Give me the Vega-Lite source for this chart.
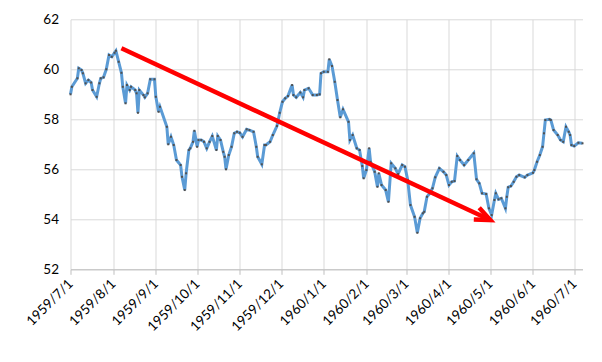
{
  "$schema": "https://vega.github.io/schema/vega-lite/v6.json",
  "width": 512,
  "height": 250,
  "autosize": "none",
  "padding": {"left": 70.5, "top": 19.3, "right": 19.5, "bottom": 92.7},
  "background": "white",
  "config": {
    "view": {"stroke": null},
    "font": "Lato",
    "axis": {"labelFont": "Lato", "labelFontSize": 13.5, "labelColor": "#000000", "gridColor": "#D9D9D9", "gridWidth": 1, "title": null}
  },
  "datasets": {
    "series": [
      {"date": "1959/07/01", "value": 59.0},
      {"date": "1959/07/02", "value": 59.3},
      {"date": "1959/07/06", "value": 59.64},
      {"date": "1959/07/07", "value": 60.04},
      {"date": "1959/07/09", "value": 59.97},
      {"date": "1959/07/10", "value": 59.84},
      {"date": "1959/07/12", "value": 59.44},
      {"date": "1959/07/14", "value": 59.57},
      {"date": "1959/07/16", "value": 59.47},
      {"date": "1959/07/17", "value": 59.17},
      {"date": "1959/07/20", "value": 58.9},
      {"date": "1959/07/22", "value": 59.44},
      {"date": "1959/07/23", "value": 59.64},
      {"date": "1959/07/25", "value": 59.68},
      {"date": "1959/07/27", "value": 60.0},
      {"date": "1959/07/29", "value": 60.57},
      {"date": "1959/07/31", "value": 60.5},
      {"date": "1959/08/02", "value": 60.66},
      {"date": "1959/08/03", "value": 60.74},
      {"date": "1959/08/05", "value": 60.3},
      {"date": "1959/08/07", "value": 59.86},
      {"date": "1959/08/08", "value": 59.3},
      {"date": "1959/08/10", "value": 58.64},
      {"date": "1959/08/11", "value": 59.37},
      {"date": "1959/08/13", "value": 59.17},
      {"date": "1959/08/14", "value": 59.3},
      {"date": "1959/08/17", "value": 59.17},
      {"date": "1959/08/18", "value": 59.04},
      {"date": "1959/08/19", "value": 58.26},
      {"date": "1959/08/20", "value": 59.17},
      {"date": "1959/08/23", "value": 58.97},
      {"date": "1959/08/24", "value": 58.88},
      {"date": "1959/08/26", "value": 59.04},
      {"date": "1959/08/28", "value": 59.6},
      {"date": "1959/08/31", "value": 59.6},
      {"date": "1959/09/01", "value": 58.9},
      {"date": "1959/09/03", "value": 58.3},
      {"date": "1959/09/04", "value": 58.5},
      {"date": "1959/09/09", "value": 57.7},
      {"date": "1959/09/10", "value": 57.0},
      {"date": "1959/09/12", "value": 57.3},
      {"date": "1959/09/14", "value": 56.97},
      {"date": "1959/09/16", "value": 56.37},
      {"date": "1959/09/19", "value": 56.17},
      {"date": "1959/09/20", "value": 55.7},
      {"date": "1959/09/22", "value": 55.17},
      {"date": "1959/09/23", "value": 55.84},
      {"date": "1959/09/25", "value": 56.77},
      {"date": "1959/09/26", "value": 56.84},
      {"date": "1959/09/28", "value": 57.1},
      {"date": "1959/09/29", "value": 57.54},
      {"date": "1959/10/01", "value": 56.9},
      {"date": "1959/10/02", "value": 57.17},
      {"date": "1959/10/04", "value": 57.17},
      {"date": "1959/10/06", "value": 57.1},
      {"date": "1959/10/08", "value": 56.84},
      {"date": "1959/10/10", "value": 57.1},
      {"date": "1959/10/12", "value": 57.33},
      {"date": "1959/10/15", "value": 56.77},
      {"date": "1959/10/16", "value": 57.33},
      {"date": "1959/10/18", "value": 57.17},
      {"date": "1959/10/20", "value": 56.7},
      {"date": "1959/10/21", "value": 56.5},
      {"date": "1959/10/22", "value": 56.0},
      {"date": "1959/10/24", "value": 56.57},
      {"date": "1959/10/26", "value": 56.9},
      {"date": "1959/10/28", "value": 57.44},
      {"date": "1959/10/30", "value": 57.5},
      {"date": "1959/11/01", "value": 57.46},
      {"date": "1959/11/03", "value": 57.3},
      {"date": "1959/11/06", "value": 57.6},
      {"date": "1959/11/08", "value": 57.57},
      {"date": "1959/11/11", "value": 57.5},
      {"date": "1959/11/13", "value": 56.9},
      {"date": "1959/11/14", "value": 56.5},
      {"date": "1959/11/17", "value": 56.2},
      {"date": "1959/11/19", "value": 56.97},
      {"date": "1959/11/20", "value": 56.97},
      {"date": "1959/11/23", "value": 57.1},
      {"date": "1959/11/25", "value": 57.37},
      {"date": "1959/11/28", "value": 57.73},
      {"date": "1959/11/30", "value": 58.26},
      {"date": "1959/12/02", "value": 58.7},
      {"date": "1959/12/04", "value": 58.84},
      {"date": "1959/12/06", "value": 58.93},
      {"date": "1959/12/09", "value": 59.37},
      {"date": "1959/12/10", "value": 58.97},
      {"date": "1959/12/12", "value": 58.88},
      {"date": "1959/12/15", "value": 59.07},
      {"date": "1959/12/17", "value": 58.88},
      {"date": "1959/12/18", "value": 59.17},
      {"date": "1959/12/21", "value": 59.24},
      {"date": "1959/12/24", "value": 58.97},
      {"date": "1959/12/27", "value": 58.97},
      {"date": "1959/12/29", "value": 59.0},
      {"date": "1959/12/30", "value": 59.84},
      {"date": "1960/01/01", "value": 59.9},
      {"date": "1960/01/04", "value": 59.9},
      {"date": "1960/01/05", "value": 60.4},
      {"date": "1960/01/07", "value": 60.13},
      {"date": "1960/01/09", "value": 59.5},
      {"date": "1960/01/11", "value": 58.77},
      {"date": "1960/01/13", "value": 58.08},
      {"date": "1960/01/15", "value": 58.4},
      {"date": "1960/01/19", "value": 57.9},
      {"date": "1960/01/20", "value": 57.17},
      {"date": "1960/01/22", "value": 57.37},
      {"date": "1960/01/25", "value": 56.84},
      {"date": "1960/01/27", "value": 56.77},
      {"date": "1960/01/29", "value": 56.13},
      {"date": "1960/01/30", "value": 55.64},
      {"date": "1960/02/01", "value": 55.97},
      {"date": "1960/02/03", "value": 56.84},
      {"date": "1960/02/04", "value": 56.3},
      {"date": "1960/02/07", "value": 55.9},
      {"date": "1960/02/09", "value": 55.3},
      {"date": "1960/02/10", "value": 55.84},
      {"date": "1960/02/12", "value": 55.37},
      {"date": "1960/02/15", "value": 55.17},
      {"date": "1960/02/17", "value": 54.7},
      {"date": "1960/02/19", "value": 56.24},
      {"date": "1960/02/22", "value": 56.04},
      {"date": "1960/02/24", "value": 55.81},
      {"date": "1960/02/27", "value": 56.17},
      {"date": "1960/02/29", "value": 56.1},
      {"date": "1960/03/02", "value": 55.57},
      {"date": "1960/03/04", "value": 54.57},
      {"date": "1960/03/07", "value": 54.1},
      {"date": "1960/03/09", "value": 53.46},
      {"date": "1960/03/11", "value": 54.04},
      {"date": "1960/03/13", "value": 54.24},
      {"date": "1960/03/14", "value": 54.3},
      {"date": "1960/03/16", "value": 54.9},
      {"date": "1960/03/18", "value": 55.04},
      {"date": "1960/03/20", "value": 55.24},
      {"date": "1960/03/22", "value": 55.68},
      {"date": "1960/03/25", "value": 56.04},
      {"date": "1960/03/28", "value": 55.9},
      {"date": "1960/03/30", "value": 55.77},
      {"date": "1960/04/01", "value": 55.37},
      {"date": "1960/04/03", "value": 55.5},
      {"date": "1960/04/05", "value": 55.53},
      {"date": "1960/04/07", "value": 56.53},
      {"date": "1960/04/09", "value": 56.37},
      {"date": "1960/04/12", "value": 56.17},
      {"date": "1960/04/15", "value": 56.37},
      {"date": "1960/04/19", "value": 56.64},
      {"date": "1960/04/21", "value": 55.6},
      {"date": "1960/04/23", "value": 55.44},
      {"date": "1960/04/25", "value": 55.04},
      {"date": "1960/04/28", "value": 55.01},
      {"date": "1960/04/30", "value": 54.44},
      {"date": "1960/05/02", "value": 54.17},
      {"date": "1960/05/04", "value": 54.77},
      {"date": "1960/05/05", "value": 55.04},
      {"date": "1960/05/07", "value": 54.8},
      {"date": "1960/05/09", "value": 54.84},
      {"date": "1960/05/12", "value": 54.44},
      {"date": "1960/05/13", "value": 54.9},
      {"date": "1960/05/14", "value": 55.28},
      {"date": "1960/05/16", "value": 55.33},
      {"date": "1960/05/18", "value": 55.5},
      {"date": "1960/05/20", "value": 55.7},
      {"date": "1960/05/22", "value": 55.77},
      {"date": "1960/05/26", "value": 55.68},
      {"date": "1960/05/28", "value": 55.77},
      {"date": "1960/06/01", "value": 55.86},
      {"date": "1960/06/02", "value": 55.97},
      {"date": "1960/06/04", "value": 56.3},
      {"date": "1960/06/06", "value": 56.57},
      {"date": "1960/06/08", "value": 56.9},
      {"date": "1960/06/09", "value": 57.44},
      {"date": "1960/06/10", "value": 57.97},
      {"date": "1960/06/13", "value": 58.0},
      {"date": "1960/06/14", "value": 57.97},
      {"date": "1960/06/16", "value": 57.57},
      {"date": "1960/06/19", "value": 57.37},
      {"date": "1960/06/21", "value": 57.17},
      {"date": "1960/06/23", "value": 57.1},
      {"date": "1960/06/25", "value": 57.7},
      {"date": "1960/06/27", "value": 57.5},
      {"date": "1960/06/28", "value": 57.37},
      {"date": "1960/06/29", "value": 56.97},
      {"date": "1960/07/01", "value": 56.93},
      {"date": "1960/07/04", "value": 57.06},
      {"date": "1960/07/07", "value": 57.04}
    ],
    "arrow": [
      {"date": "1959/08/07", "value": 60.84},
      {"date": "1960/05/01", "value": 53.97}
    ],
    "tip": [
      {"date": "1960/05/01", "value": 53.97}
    ]
  },
  "layer": [
    {
      "data": {"name": "series"},
      "mark": {"type": "line", "color": "#5B9BD5", "strokeWidth": 3, "clip": false,
        "point": {"shape": "square", "size": 4, "filled": true, "color": "#505050", "opacity": 1}},
      "encoding": {
        "x": {
          "field": "date", "type": "temporal",
          "scale": {"domain": [{"year": 1959, "month": 7, "date": 1}, {"year": 1960, "month": 7, "date": 7}]},
          "axis": {
            "values": [
              {"year": 1959, "month": 7, "date": 1}, {"year": 1959, "month": 8, "date": 1},
              {"year": 1959, "month": 9, "date": 1}, {"year": 1959, "month": 10, "date": 1},
              {"year": 1959, "month": 11, "date": 1}, {"year": 1959, "month": 12, "date": 1},
              {"year": 1960, "month": 1, "date": 1}, {"year": 1960, "month": 2, "date": 1},
              {"year": 1960, "month": 3, "date": 1}, {"year": 1960, "month": 4, "date": 1},
              {"year": 1960, "month": 5, "date": 1}, {"year": 1960, "month": 6, "date": 1},
              {"year": 1960, "month": 7, "date": 1}
            ],
            "format": "%Y/%-m/%-d",
            "labelAngle": -45,
            "labelAlign": "right",
            "labelBaseline": "middle",
            "labelPadding": 7,
            "labelOverlap": false,
            "labelFlush": false,
            "domainColor": "#BFBFBF",
            "tickColor": "#BFBFBF",
            "tickSize": 5,
            "grid": true
          }
        },
        "y": {
          "field": "value", "type": "quantitative",
          "scale": {"domain": [52, 62], "nice": false, "zero": false},
          "axis": {"values": [52, 54, 56, 58, 60, 62], "domain": false, "ticks": false, "labelPadding": 12, "grid": true}
        }
      }
    },
    {
      "data": {"name": "arrow"},
      "mark": {"type": "line", "color": "#FF0000", "strokeWidth": 4.5, "strokeCap": "butt"},
      "encoding": {
        "x": {"field": "date", "type": "temporal"},
        "y": {"field": "value", "type": "quantitative"}
      }
    },
    {
      "data": {"name": "tip"},
      "mark": {"type": "point", "shape": "M-1,-0.42L0,0L-1,0.42", "filled": false, "stroke": "#FF0000", "strokeWidth": 4.5, "strokeJoin": "miter", "size": 925, "angle": 25, "opacity": 1},
      "encoding": {
        "x": {"field": "date", "type": "temporal"},
        "y": {"field": "value", "type": "quantitative"}
      }
    }
  ]
}
